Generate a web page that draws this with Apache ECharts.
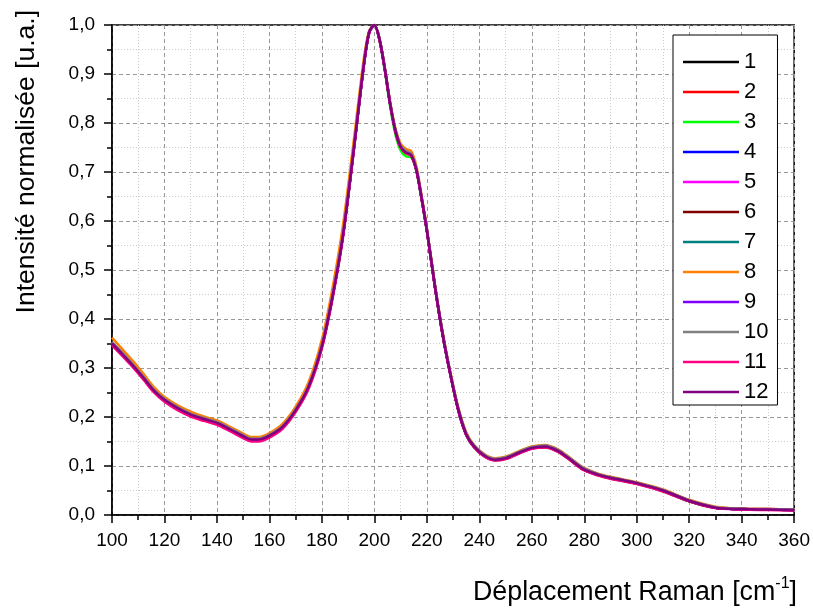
<!DOCTYPE html>
<html>
<head>
<meta charset="utf-8">
<script src="https://cdn.jsdelivr.net/npm/echarts@6/dist/echarts.min.js"></script>
<style>html,body{margin:0;padding:0;background:#fff;}#c{width:813px;height:610px;}</style>
</head>
<body>
<div id="c"></div>
<script>
const ramanShift = [100,104,108,112,116,120,125,130,135,140,145,150,153,156,160,165,170,175,180,184,188,192,196,198,200,202,204,206,208,210,212,214,216,218,220,223,226,229,232,235,238,242,246,250,255,260,265,270,275,280,285,290,300,310,320,330,340,350,360];
const seriesNames = ['1','2','3','4','5','6','7','8','9','10','11','12'];
const seriesColors = ['#000000','#ff0000','#00ff00','#0000ff','#ff00ff','#800000','#008080','#ff8000','#8000ff','#808080','#ff0080','#800080'];
const s1 = [.348,.327,.304,.279,.253,.234,.217,.204,.195,.187,.174,.160,.153,.153,.161,.179,.213,.262,.344,.444,.569,.739,.919,.984,1.000,.969,.909,.839,.784,.751,.739,.734,.704,.646,.581,.469,.369,.286,.214,.164,.139,.120,.112,.115,.126,.136,.139,.130,.111,.092,.082,.075,.064,.049,.028,.015,.012,.011,.010];
const s2 = [.352,.330,.306,.281,.255,.236,.219,.206,.197,.189,.176,.162,.155,.155,.163,.181,.215,.264,.347,.447,.572,.742,.921,.986,1.000,.971,.911,.841,.786,.753,.741,.736,.706,.648,.583,.471,.371,.288,.216,.166,.141,.122,.114,.117,.128,.138,.141,.132,.113,.094,.084,.077,.066,.051,.030,.016,.013,.012,.011];
const s3 = [.349,.327,.304,.279,.253,.234,.217,.204,.195,.187,.174,.160,.153,.153,.161,.179,.213,.262,.344,.444,.569,.739,.919,.984,1.000,.968,.906,.834,.777,.744,.732,.730,.702,.645,.580,.469,.369,.286,.214,.164,.139,.120,.112,.115,.126,.136,.139,.130,.111,.092,.082,.075,.064,.049,.028,.015,.012,.011,.010];
const s4 = [.350,.328,.305,.280,.254,.235,.218,.205,.196,.188,.175,.161,.154,.154,.162,.180,.214,.263,.346,.446,.571,.741,.920,.985,1.000,.970,.910,.840,.785,.752,.740,.735,.705,.647,.582,.470,.370,.287,.215,.165,.140,.121,.113,.116,.127,.137,.140,.131,.112,.093,.083,.076,.065,.050,.029,.015,.012,.011,.010];
const s5 = [.351,.329,.305,.280,.254,.235,.218,.205,.196,.188,.175,.161,.154,.154,.162,.180,.214,.263,.345,.445,.570,.740,.920,.985,1.000,.970,.910,.840,.785,.752,.741,.736,.705,.647,.582,.470,.370,.287,.215,.165,.140,.121,.113,.116,.127,.137,.140,.131,.112,.093,.083,.076,.065,.050,.029,.015,.012,.011,.010];
const s6 = [.349,.327,.304,.279,.253,.234,.217,.204,.195,.187,.174,.160,.153,.153,.161,.179,.213,.262,.344,.444,.569,.739,.919,.984,1.000,.969,.909,.839,.784,.751,.739,.734,.704,.646,.581,.469,.369,.286,.214,.164,.139,.120,.112,.115,.126,.136,.139,.130,.111,.092,.082,.075,.064,.049,.028,.015,.012,.011,.010];
const s7 = [.350,.328,.305,.280,.254,.235,.218,.205,.196,.188,.175,.161,.154,.154,.162,.180,.214,.263,.345,.445,.570,.740,.920,.985,1.000,.970,.910,.840,.785,.752,.740,.735,.705,.647,.582,.470,.370,.287,.215,.165,.140,.121,.113,.116,.127,.137,.140,.131,.112,.093,.083,.076,.065,.050,.029,.015,.012,.011,.010];
const s8 = [.362,.338,.314,.288,.261,.241,.224,.211,.201,.193,.180,.166,.159,.159,.167,.186,.221,.272,.358,.462,.590,.758,.932,.988,1.000,.972,.913,.844,.790,.758,.747,.743,.712,.652,.586,.474,.374,.291,.219,.169,.143,.124,.116,.119,.130,.140,.143,.134,.115,.096,.085,.078,.067,.052,.031,.017,.013,.012,.011];
const s9 = [.350,.328,.305,.280,.254,.235,.218,.205,.196,.188,.175,.161,.154,.154,.162,.180,.214,.263,.345,.445,.570,.740,.920,.985,1.000,.970,.910,.840,.785,.752,.740,.735,.705,.647,.582,.470,.370,.287,.215,.165,.140,.121,.113,.116,.127,.137,.140,.131,.112,.093,.083,.076,.065,.050,.029,.015,.012,.011,.010];
const s10 = [.353,.331,.307,.282,.256,.237,.220,.207,.198,.190,.177,.163,.156,.156,.164,.182,.216,.265,.348,.448,.573,.742,.921,.986,1.000,.971,.911,.842,.787,.754,.743,.738,.707,.649,.584,.472,.372,.289,.217,.167,.142,.123,.115,.118,.129,.139,.142,.133,.114,.095,.084,.077,.066,.051,.030,.016,.013,.012,.011];
const s11 = [.346,.324,.301,.276,.250,.231,.214,.201,.192,.184,.171,.157,.150,.150,.158,.176,.210,.258,.340,.440,.565,.736,.917,.983,1.000,.968,.908,.838,.783,.750,.738,.733,.703,.645,.580,.468,.368,.285,.213,.163,.138,.119,.111,.114,.125,.135,.138,.129,.110,.091,.081,.074,.063,.048,.028,.014,.011,.010,.009];
const s12 = [.350,.328,.305,.280,.254,.235,.218,.205,.196,.188,.175,.161,.154,.154,.162,.180,.214,.263,.345,.445,.570,.740,.920,.985,1.000,.970,.910,.840,.785,.752,.740,.735,.705,.647,.582,.470,.370,.287,.215,.165,.140,.121,.113,.116,.127,.137,.140,.131,.112,.093,.083,.076,.065,.050,.029,.015,.012,.011,.010];
const allValues = [s1,s2,s3,s4,s5,s6,s7,s8,s9,s10,s11,s12];
const xTitle = 'Déplacement Raman [cm';
const xTitleSup = '-1';
const yTitle = 'Intensité normalisée [u.a.]';

const FONT = '"Liberation Sans", Arial, sans-serif';
const chart = echarts.init(document.getElementById('c'), null, {renderer: 'canvas'});

const series = allValues.map((vals, i) => ({
  name: seriesNames[i],
  type: 'line',
  data: ramanShift.map((x, j) => [x, vals[j]]),
  showSymbol: false,
  symbol: 'none',
  smooth: 0.3,
  lineStyle: {width: 2.5, color: seriesColors[i]},
  itemStyle: {color: seriesColors[i]},
  z: 3 + i
}));

chart.setOption({
  animation: false,
  backgroundColor: '#fff',
  grid: {left: 112, right: 18, top: 25, bottom: 95, show: true, borderColor: '#000', borderWidth: 1.5, backgroundColor: 'transparent'},
  xAxis: {
    type: 'value', min: 100, max: 360, interval: 20,
    axisLine: {show: true, onZero: false, lineStyle: {color: '#000', width: 1.5}},
    axisTick: {show: true, inside: false, length: 8, lineStyle: {color: '#000', width: 1.5}},
    minorTick: {show: true, splitNumber: 2, length: 5, lineStyle: {color: '#000', width: 1.5}},
    axisLabel: {color: '#000', fontSize: 19, fontFamily: FONT, margin: 16},
    splitLine: {show: true, lineStyle: {color: '#999', width: 1, type: [4, 3]}},
    minorSplitLine: {show: true, lineStyle: {color: '#ccc', width: 1, type: [1, 2]}}
  },
  yAxis: {
    type: 'value', min: 0, max: 1, interval: 0.1,
    axisLine: {show: true, onZero: false, lineStyle: {color: '#000', width: 1.5}},
    axisTick: {show: true, inside: false, length: 8, lineStyle: {color: '#000', width: 1.5}},
    minorTick: {show: true, splitNumber: 2, length: 5, lineStyle: {color: '#000', width: 1.5}},
    axisLabel: {color: '#000', fontSize: 19, fontFamily: FONT, margin: 17,
      formatter: v => v.toFixed(1).replace('.', ',')},
    splitLine: {show: true, lineStyle: {color: '#999', width: 1, type: [4, 3]}},
    minorSplitLine: {show: true, lineStyle: {color: '#ccc', width: 1, type: [1, 2]}}
  },
  legend: {
    orient: 'vertical', left: 673, top: 35,
    backgroundColor: '#fff', borderColor: '#000', borderWidth: 1,
    padding: [16, 9, 2, 10], itemGap: 8, itemWidth: 56, itemHeight: 2.5,
    icon: 'rect',
    textStyle: {color: '#000', fontSize: 22, lineHeight: 22, fontFamily: FONT},
    data: seriesNames
  },
  graphic: [
    {type: 'text', left: 13, top: 10, rotation: Math.PI / 2,
      style: {text: yTitle, fill: '#000', font: '26.5px ' + FONT}},
    {type: 'text', right: 16, top: 576,
      style: {text: '{a|' + xTitle + '}{s|' + xTitleSup + '}{a|]}',
        rich: {a: {fontSize: 26.8, fontFamily: FONT, fill: '#000', lineHeight: 30, verticalAlign: 'bottom'},
               s: {fontSize: 16, fontFamily: FONT, fill: '#000', lineHeight: 30, verticalAlign: 'top'}}}}
  ],
  series: series
});
</script>
</body>
</html>
